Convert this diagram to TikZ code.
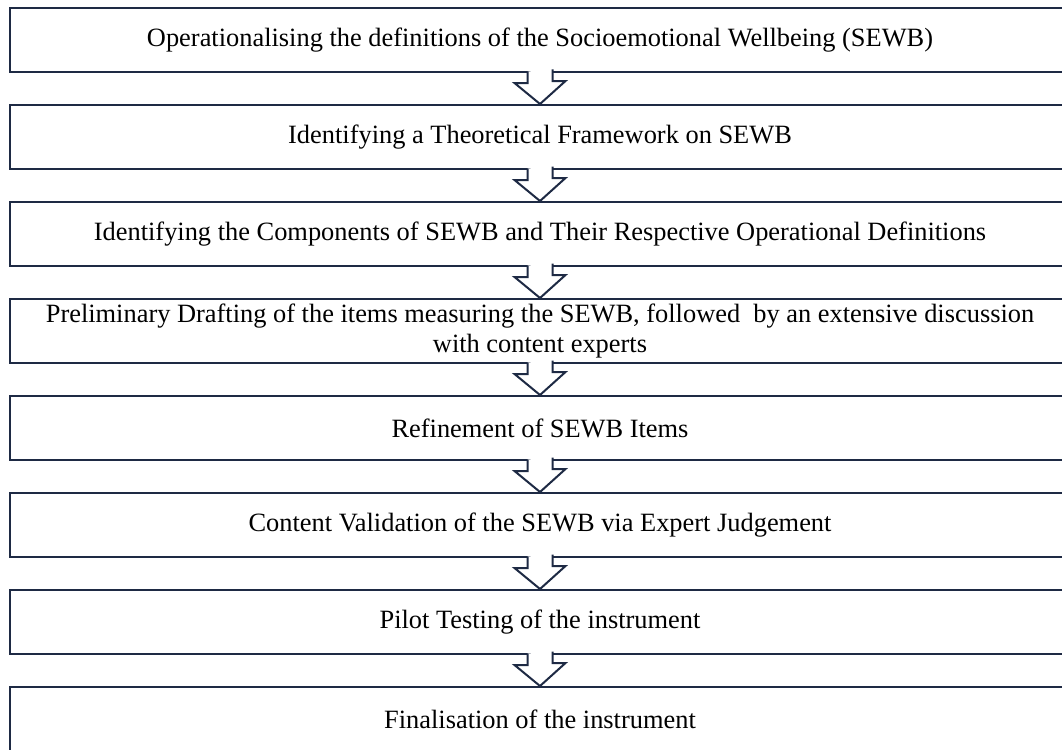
\documentclass[tikz,border=0pt]{standalone}
\usepackage{fontspec}
\setmainfont{Liberation Serif}
\usepackage{xcolor}
\definecolor{navy}{HTML}{1E2A44}

\tikzset{
	stage/.style = {draw = navy, line width = 1.5pt, fill = white,
		minimum width = 795pt, minimum height = 48pt, inner sep = 0pt,
		align = center, font = \fontsize{19.8}{22.5}\selectfont},
	blockarrow/.style = {draw = navy, fill = white, line width = 1.5pt, line join = miter}
}

\begin{document}
\begin{tikzpicture}[x = 0.75pt, y = -0.75pt]
	\useasboundingbox (0,0) rectangle (1062,749);
	\clip (0,0) rectangle (1062,749);
	
	% steps
	\node[stage] (s1) at (540, 40) {Operationalising the definitions of the Socioemotional Wellbeing (SEWB)};
	\node[stage] (s2) at (540, 137) {Identifying a Theoretical Framework on SEWB};
	\node[stage] (s3) at (540, 234) {Identifying the Components of SEWB and Their Respective Operational Definitions};
	\node[stage] (s4) at (540, 331) {Preliminary Drafting of the items measuring the SEWB, followed~ by an extensive discussion\\ with content experts};
	\node[stage] (s5) at (540, 428) {Refinement of SEWB Items};
	\node[stage] (s6) at (540, 525) {Content Validation of the SEWB via Expert Judgement};
	\node[stage] (s7) at (540, 622) {Pilot Testing of the instrument};
	\node[stage] (s8) at (540, 719) {Finalisation of the instrument};
	
	% hollow arrows between the steps
	\foreach \a/\b in {s1/s2, s2/s3, s3/s4, s4/s5, s5/s6, s6/s7, s7/s8} {
		\path[blockarrow] (\a.south) ++(-12.5,-1.5) -- ++(0,11.5) -- ++(-13,0) -- (\b.north)
			-- ++(25.5,-23) -- ++(-13,0) -- ++(0,-11.5);
	}
	
\end{tikzpicture}
\end{document}
